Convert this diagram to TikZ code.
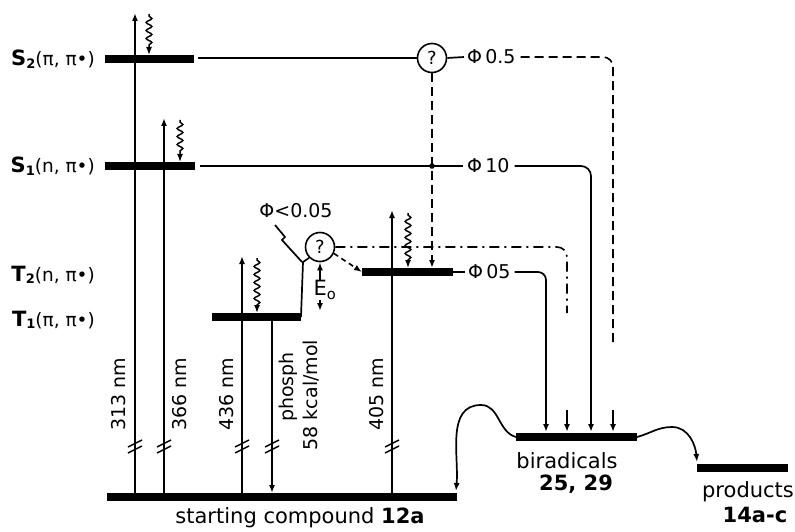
\documentclass[tikz,border=0pt]{standalone}
\usepackage{fontspec}
\setmainfont{DejaVu Sans}
\usetikzlibrary{arrows.meta,decorations.pathmorphing,calc}
\newcommand{\lvlname}[3]{{\fontsize{21}{22}\selectfont\bfseries #1}\raisebox{-0.45ex}{\fontsize{13}{13}\selectfont\bfseries #2}{\fontsize{18.5}{20}\selectfont(#3)}}
\begin{document}
\begin{tikzpicture}[x=1pt,y=-1pt,
  thinl/.style={line width=1.7pt},
  bar/.style={line width=8pt},
  tip/.tip={Latex[length=8pt,width=6pt]},
  arr/.style={line width=1.7pt,-tip},
  wavy/.style={line width=1.5pt,-tip,decorate,decoration={snake,amplitude=2.8pt,segment length=8pt,pre length=2pt,post length=8pt}},
  dsh/.style={line width=1.6pt,dash pattern=on 9pt off 5pt},
  dshdot/.style={line width=1.6pt,dash pattern=on 10pt off 5pt on 2pt off 5pt},
  lbl/.style={font=\fontsize{19}{22}\selectfont,inner sep=0pt},
  big/.style={font=\fontsize{21}{24}\selectfont,inner sep=0pt},
  qc/.style={circle,draw,line width=1.6pt,minimum size=29pt,inner sep=0pt,font=\fontsize{18}{20}\selectfont},
  brk/.pic={\draw[line width=1.4pt] (-7,3)--(7,-4) (-7,9)--(7,2);}
]
\useasboundingbox (0,0) rectangle (795,532);

% level coordinates
\coordinate (S2a) at (105,59);  \coordinate (S2b) at (194,59);
\coordinate (S1a) at (105,166); \coordinate (S1b) at (195,166);
\coordinate (T1a) at (212,317); \coordinate (T1b) at (301,317);
\coordinate (T2a) at (362,272); \coordinate (T2b) at (453,272);
\coordinate (Ga)  at (107,497); \coordinate (Gb)  at (457,497);
\coordinate (Ba)  at (516,437); \coordinate (Bb)  at (637,437);
\coordinate (Pa)  at (697,468); \coordinate (Pb)  at (788,468);

% level labels
\node[anchor=east,inner sep=0pt] (lS2) at (95,59) {\lvlname{S}{2}{π, π•}};
\node[anchor=east,inner sep=0pt] (lS1) at (95,166) {\lvlname{S}{1}{n, π•}};
\node[anchor=east,inner sep=0pt] (lT2) at (95,275) {\lvlname{T}{2}{n, π•}};
\node[anchor=east,inner sep=0pt] (lT1) at (95,320) {\lvlname{T}{1}{π, π•}};

% bars
\draw[bar] (S2a) -- (S2b);
\draw[bar] (S1a) -- (S1b);
\draw[bar] (T1a) -- (T1b);
\draw[bar] (T2a) -- (T2b);
\draw[bar] (Ga) -- (Gb);
\draw[bar] (Ba) -- (Bb);
\draw[bar] (Pa) -- (Pb);

% question circles
\node[qc] (q1) at (432,58) {?};
\node[qc] (q2) at (320,247) {?};

% excitation lines
\draw[arr] (135,497) -- (135,13);
\draw[wavy] (149,14) -- (149,55);
\draw[arr] (164,497) -- (164,118);
\draw[wavy] (180,120) -- (180,162);
\draw[arr] (242,497) -- (242,256);
\draw[wavy] (257,258) -- (257,313);
\draw[arr] (272,317) -- (272,493);
\draw[arr] (392,497) -- (392,210);
\draw[wavy] (408,213) -- (408,268);
\draw[dsh,-tip] (q1.south) -- (432,268);
\fill (432,166) circle (2.8pt);

% breaks
\pic at (135,444) {brk};
\pic at (164,444) {brk};
\pic at (242,444) {brk};
\pic at (272,444) {brk};
\pic at (392,444) {brk};

% rotated labels
\node[lbl,rotate=90] (w313) at (119,394) {313 nm};
\node[lbl,rotate=90] (w366) at (180,394) {366 nm};
\node[lbl,rotate=90] (w436) at (227,394) {436 nm};
\node[lbl,rotate=90] (wph) at (288,387) {phosph};
\node[lbl,rotate=90] (wkc) at (311,395) {58 kcal/mol};
\node[lbl,rotate=90] (w405) at (377,394) {405 nm};

% quantum yield labels
\node[lbl,anchor=west] (phiA) at (467,57) {Φ\,0.5};
\node[lbl,anchor=west] (phiB) at (467,166) {Φ\,10};
\node[lbl,anchor=west] (phiC) at (468,272) {Φ\,05};
\node[lbl] (phiD) at (296,211) {Φ<0.05};

% S2 route
\draw[thinl] (198,58) -- (q1.west);
\draw[thinl] (q1.east) -- ([xshift=-3pt]phiA.west);
\draw[dsh,rounded corners=10pt] ([xshift=5pt]phiA.east) -- (613,57) -- (613,345);
\coordinate (u1) at (613,410);
\draw[arr] (u1) -- (613,432);

% S1 route
\draw[thinl] (200,166) -- ([xshift=-4pt]phiB.west);
\draw[arr,rounded corners=10pt] ([xshift=5pt]phiB.east) -- (591,166) -- (591,432);

% T2 route
\draw[thinl] (T2b) -- ([xshift=-3pt]phiC.west);
\draw[arr,rounded corners=8pt] ([xshift=4pt]phiC.east) -- (546,272) -- (546,432);

% T2 circle connections
\draw[dshdot,rounded corners=10pt] (q2.east) -- (567,247) -- (567,313);
\coordinate (u2) at (567,410);
\draw[arr] (u2) -- (567,432);
\draw[thinl] (T1b) -- (303,262) -- (q2.225);
\draw[thinl] (275,225) -- (285,237) -- (282,240) -- (302,262);
\draw[line width=1.6pt,dash pattern=on 5pt off 4pt,-tip] (q2.-25) -- (T2a);
\draw[line width=1.6pt,tip-tip] (q2.south) -- (320,311);
\node[font=\fontsize{21}{22}\selectfont,fill=white,inner sep=1pt] (Eo) at (325,290) {E\textsubscript{o}};

% humps
\draw[line width=1.7pt,-tip] (Ba) to[out=165,in=0] (481,405) to[out=180,in=85] (456,491);
\draw[line width=1.7pt,-tip] (Bb) to[out=15,in=180] (672,427) to[out=0,in=95] (697,462);

% bottom labels
\node[big] (start) at (300,518) {starting compound \textbf{12a}};
\node[big] (birad) at (567,461) {biradicals};
\node[big] (bnum) at (576,484) {\textbf{25, 29}};
\node[big] (prod) at (748,492) {products};
\node[big] (pnum) at (755,515) {\textbf{14a-c}};
\end{tikzpicture}
\end{document}
